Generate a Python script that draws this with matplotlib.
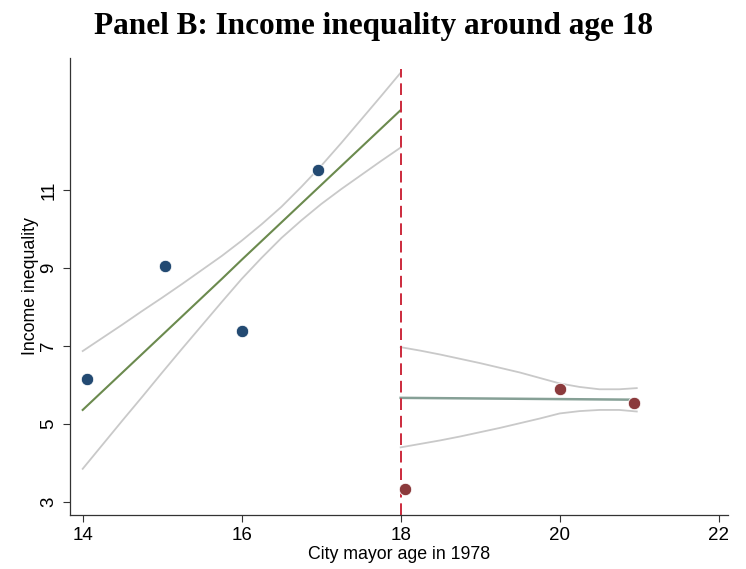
import matplotlib.pyplot as plt

plt.rcParams['font.family'] = ['Liberation Sans', 'DejaVu Sans']

# binned means, left and right of the cutoff
age_left = [14.06, 15.03, 16.0, 16.96]
ineq_left = [6.15, 9.04, 7.38, 11.51]
age_right = [18.06, 20.01, 20.93]
ineq_right = [3.33, 5.89, 5.55]

# linear fit with 95% CI, below the cutoff
fit_x_left = [14, 14.25, 14.5, 14.75, 15, 15.25, 15.5, 15.75, 16,
              16.25, 16.5, 16.75, 17, 17.25, 17.5, 17.75, 18]
fit_left = [5.36, 5.84, 6.32, 6.80, 7.28, 7.76, 8.24, 8.72, 9.21,
            9.69, 10.17, 10.65, 11.13, 11.61, 12.09, 12.57, 13.05]
ci_hi_left = [6.87, 7.21, 7.55, 7.90, 8.24, 8.59, 8.95, 9.31, 9.70,
              10.12, 10.57, 11.08, 11.62, 12.20, 12.80, 13.40, 14.01]
ci_lo_left = [3.85, 4.47, 5.09, 5.70, 6.32, 6.93, 7.53, 8.13, 8.72,
              9.26, 9.77, 10.22, 10.64, 11.02, 11.38, 11.74, 12.09]

# linear fit with 95% CI, above the cutoff
fit_x_right = [18, 18.25, 18.5, 18.75, 19, 19.25, 19.5, 19.75, 20,
               20.25, 20.5, 20.75, 20.97]
fit_right = [5.670, 5.666, 5.662, 5.658, 5.654, 5.650, 5.646, 5.642,
             5.638, 5.634, 5.630, 5.626, 5.622]
ci_hi_right = [6.97, 6.88, 6.78, 6.67, 6.56, 6.44, 6.32, 6.18, 6.04,
               5.95, 5.89, 5.89, 5.92]
ci_lo_right = [4.40, 4.49, 4.58, 4.68, 4.79, 4.90, 5.02, 5.14, 5.27,
               5.33, 5.36, 5.36, 5.32]

cutoff = 18
x_ticks = [14, 16, 18, 20, 22]
y_ticks = [3, 5, 7, 9, 11]

fig = plt.figure(figsize=(7.46, 5.69), dpi=100)
ax = fig.add_axes([0.0938, 0.095, 0.882, 0.803])

ci_col = '#c9c9c9'
ax.plot(fit_x_left, ci_hi_left, color=ci_col, lw=1.3)
ax.plot(fit_x_left, ci_lo_left, color=ci_col, lw=1.3)
ax.plot(fit_x_left, fit_left, color='#6b8a4e', lw=1.5)
ax.plot(fit_x_right, ci_hi_right, color=ci_col, lw=1.3)
ax.plot(fit_x_right, ci_lo_right, color=ci_col, lw=1.3)
ax.plot(fit_x_right, fit_right, color='#86a096', lw=1.8)

ax.scatter(age_left, ineq_left, s=80, color='#234a72', edgecolors='white',
           linewidths=0.6, zorder=3)
ax.scatter(age_right, ineq_right, s=80, color='#8b3a3c', edgecolors='white',
           linewidths=0.6, zorder=3)

ax.vlines(cutoff, 2.667, 14.1, colors='#cc2a3c', linestyles=(0, (6, 3)),
          lw=1.4, zorder=2)

ax.set_xlim(13.84, 22.117)
ax.set_ylim(2.667, 14.385)
ax.set_xticks(x_ticks)
ax.set_yticks(y_ticks)
ax.tick_params(axis='both', labelsize=13.5, length=5, width=0.8,
               color='#333333', pad=4)
for lab in ax.get_yticklabels():
    lab.set_rotation(90)
    lab.set_va('center')
ax.spines['top'].set_visible(False)
ax.spines['right'].set_visible(False)
for s in ('left', 'bottom'):
    ax.spines[s].set_linewidth(0.9)
    ax.spines[s].set_color('#333333')

ax.set_xlabel('City mayor age in 1978', fontsize=12.8, labelpad=1)
ax.set_ylabel('Income inequality', fontsize=12.8, labelpad=1)

fig.text(0.5, 0.953, 'Panel B: Income inequality around age 18',
         ha='center', va='center', fontsize=22.5, fontweight='bold',
         family='Liberation Serif')

fig.savefig('out.png', dpi=100)
